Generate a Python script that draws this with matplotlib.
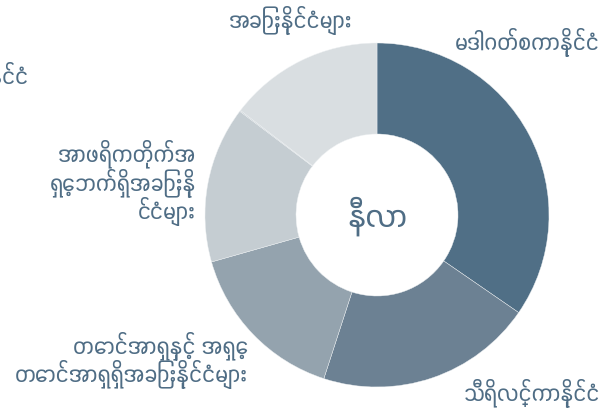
import numpy as np
import matplotlib
matplotlib.use("Agg")
import matplotlib.pyplot as plt
from matplotlib import font_manager as fm
from matplotlib.ft2font import FT2Font

# data
countries = [
    "မဒါဂတ်စကာနိုင်ငံ",
    "သီရိလင်္ကာနိုင်ငံ",
    "တောင်အာရှနှင့် အရှေ့\nတောင်အာရှရှိအခြားနိုင်ငံများ",
    "အာဖရိကတိုက်အ\nရှေ့ဘက်ရှိအခြားနို\nင်ငံများ",
    "မြန်မာနိုင်ငံ",
    "အခြားနိုင်ငံများ",
]
shares = [34.6, 20.4, 15.6, 14.7, 0.1, 14.6]
colors = ["#506f86", "#6c8193", "#94a3ae", "#c5cdd2", "#c5cdd2", "#d9dee1"]
center_label = "နီလာ"


# pick the Myanmar font that sets the test string most compactly
def test_width(path):
    ft = FT2Font(path)
    ft.set_size(12, 72)
    ft.set_text("နိုင်ငံများ", 0)
    return ft.get_width_height()[0]


best = None
for f in fm.findSystemFonts():
    try:
        if 0x1000 in FT2Font(f).get_charmap():
            w = test_width(f)
            if best is None or w < best[0]:
                best = (w, f)
    except Exception:
        pass
fam = ["DejaVu Sans"]
if best:
    fm.fontManager.addfont(best[1])
    fam = [fm.FontProperties(fname=best[1]).get_name(), "DejaVu Sans"]
plt.rcParams["font.family"] = fam

txt_col = "#4f6d85"

fig = plt.figure(figsize=(6.07, 4.14), dpi=100)
ax = fig.add_axes([0, 0, 1, 1])

cx, cy, R = 377, 198, 172
ax.pie(shares, colors=colors, startangle=90, counterclock=False,
       radius=R, center=(cx, cy),
       wedgeprops=dict(width=R - 81, linewidth=0.3, edgecolor="#eef1f3"))
ax.set_xlim(0, 607)
ax.set_ylim(0, 414)
ax.set_aspect("equal")
ax.axis("off")

# label layout (x, y in pixels from top-left, ha)
layout = [
    (600, 42, "right"),
    (600, 393, "right"),
    (248, 360, "right"),
    (196, 183, "right"),
    (29, 76, "right"),
    (290, 20, "center"),
]
for name, (x, y, ha) in zip(countries, layout):
    ax.text(x, 414 - y, name, ha=ha, va="center", fontsize=17,
            color=txt_col, linespacing=1.0)

ax.text(cx, cy, center_label, ha="center", va="center", fontsize=24,
        color=txt_col)

fig.savefig("out.png", dpi=100)
